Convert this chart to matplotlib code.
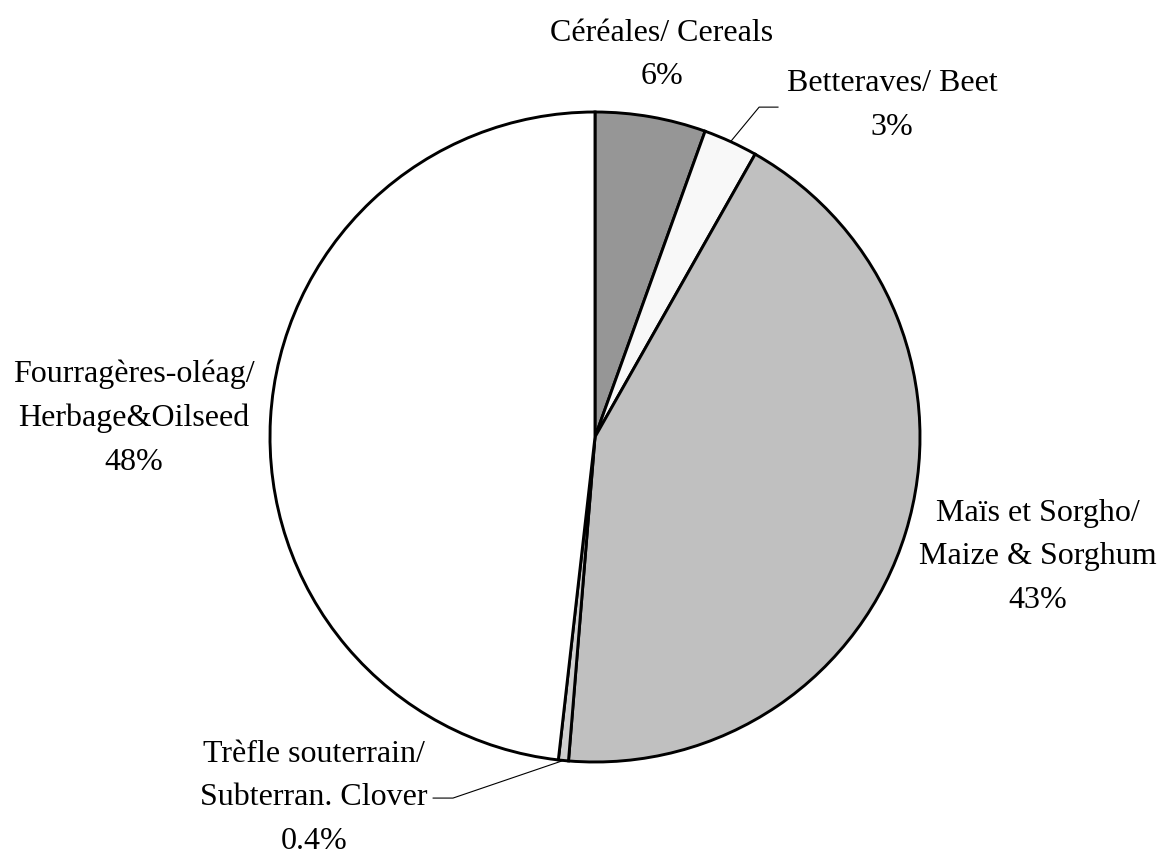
import numpy as np
import matplotlib
matplotlib.use('Agg')
import matplotlib.pyplot as plt

# crop shares (percent of area)
crops = ['Céréales/ Cereals', 'Betteraves/ Beet', 'Maïs et Sorgho/\nMaize & Sorghum',
         'Trèfle souterrain/\nSubterran. Clover', 'Fourragères-oléag/\nHerbage&Oilseed']
shares = [5.5, 2.7, 43.1, 0.5, 48.2]
pct_labels = ['6%', '3%', '43%', '0.4%', '48%']
colours = ['#969696', '#f8f8f8', '#c0c0c0', '#d0d0d0', '#ffffff']

plt.rcParams['font.family'] = ['Liberation Serif', 'DejaVu Serif']

W, H = 1161, 855
fig = plt.figure(figsize=(W / 100, H / 100), dpi=100)
cx, cy, R = 595, 437, 325
ax = fig.add_axes([(cx - R) / W, (H - cy - R) / H, 2 * R / W, 2 * R / H])
ax.axis('off')

wedges, _ = ax.pie(shares, colors=colours, startangle=90, counterclock=False, radius=1,
                   wedgeprops=dict(edgecolor='black', linewidth=2.1), frame=False)
ax.set_xlim(-1, 1)
ax.set_ylim(-1, 1)
ax.set_aspect('auto')

# label centres (pie units) and elbow points for the leader lines
label_pos = [(0.206, 1.175), (0.914, 1.02), (1.363, -0.369), (-0.865, -1.11), (-1.418, 0.058)]
leaders = {1: [(0.505, 1.015), (0.563, 1.015)], 3: [(-0.437, -1.111), (-0.498, -1.111)]}

for i, w in enumerate(wedges):
    txt = crops[i] + '\n' + pct_labels[i]
    ax.text(label_pos[i][0], label_pos[i][1], txt, ha='center', va='center',
            fontsize=23, linespacing=1.66, clip_on=False)
    if i in leaders:
        mid = np.deg2rad((w.theta1 + w.theta2) / 2)
        xs = [np.cos(mid)] + [p[0] for p in leaders[i]]
        ys = [np.sin(mid)] + [p[1] for p in leaders[i]]
        ax.plot(xs, ys, color='black', linewidth=0.8, clip_on=False)

fig.savefig('out.png', dpi=100, facecolor='white')
